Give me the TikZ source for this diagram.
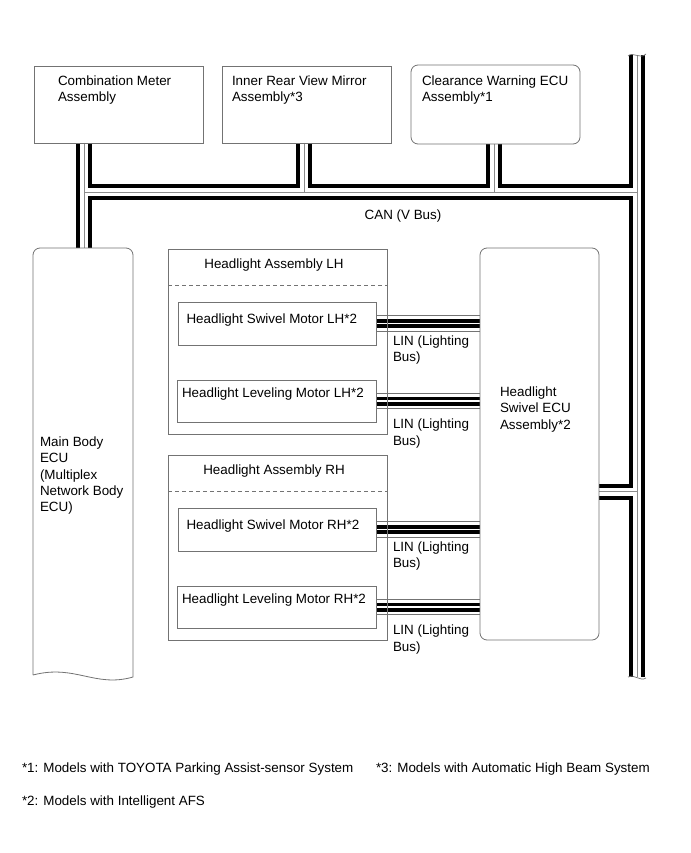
\documentclass[tikz,border=0pt]{standalone}
\usepackage{fontspec}
\setmainfont{Liberation Sans}
\usetikzlibrary{calc,backgrounds}
\begin{document}
\begin{tikzpicture}[x=1pt,y=-1pt,
  every node/.style={inner sep=0pt,outer sep=0pt},
  lbl/.style={font=\fontsize{13.4}{16.4}\selectfont,align=left,anchor=north west},
  ctr/.style={font=\fontsize{13.4}{16.4}\selectfont,anchor=base},
  sqbox/.style={draw=black!55,line width=0.8pt,anchor=north west},
  rdbox/.style={sqbox,rounded corners=7pt},
  dashsep/.style={draw=black!55,line width=0.8pt,dash pattern=on 4pt off 3pt},
  thinw/.style={draw=black!55,line width=0.7pt}]

% ---------- boxes ----------
\node[sqbox,minimum width=169,minimum height=77] (cm) at (34,66) {};
\node[sqbox,minimum width=169,minimum height=77] (ir) at (222,66) {};
\node[rdbox,minimum width=169,minimum height=79] (cw) at (411,65) {};

\node[minimum width=100,minimum height=429,anchor=north west] (mb) at (33,248) {};
\draw[draw=black!55,line width=0.8pt] (33,675) [rounded corners=7pt] -- (mb.north west) -- (mb.north east) [sharp corners] -- (133,677)
  .. controls (95,688) and (75,664) .. (33,675);

\node[sqbox,minimum width=219,minimum height=185] (hal) at (168,249) {};
\draw[dashsep] ($(hal.north west)+(0,36)$) -- ($(hal.north east)+(0,36)$);
\node[sqbox,minimum width=198,minimum height=43] (swl) at (178,302) {};
\node[sqbox,minimum width=199,minimum height=42] (lvl) at (177,380) {};

\node[sqbox,minimum width=219,minimum height=185] (har) at (168,455) {};
\draw[dashsep] ($(har.north west)+(0,36)$) -- ($(har.north east)+(0,36)$);
\node[sqbox,minimum width=198,minimum height=43] (swr) at (178,508) {};
\node[sqbox,minimum width=199,minimum height=42] (lvr) at (177,586) {};

\node[rdbox,minimum width=119,minimum height=392] (ecu) at (480,248) {};

% ---------- buses ----------
\coordinate (jl) at (84,192);
\coordinate (jm) at (304,192);
\coordinate (jc) at (494,192);
\coordinate (rt) at (637,55);
\coordinate (rb) at (637,677);
\coordinate (je) at (637,491.5);

\begin{scope}[on background layer]
\fill[white] (0,0) rectangle (690,853);
\foreach \w/\c in {16/black,8/white,0.9/black!45}{
  \draw[line width=\w,draw=\c] (cm.south -| jl) -- (mb.north -| jl)
    (jl) -- (jl -| rt)
    (ir.south -| jm) -- (jm)
    (cw.south -| jc) -- (jc)
    (rt) -- (rb)
    (ecu.east |- je) -- (je);
}
\foreach \m in {swl,lvl,swr,lvr}{
  \draw[line width=9,black] (\m.east) -- (\m.east -| ecu.west);
  \draw[line width=1.5,white] (\m.east) -- (\m.east -| ecu.west);
  \draw[thinw] ($(\m.east)+(0,-7.8)$) -- ($(\m.east -| ecu.west)+(0,-7.8)$);
  \draw[thinw] ($(\m.east)+(0,7.8)$) -- ($(\m.east -| ecu.west)+(0,7.8)$);
}
\end{scope}
\draw[thinw] ($(rt)+(-9,1)$) .. controls ($(rt)+(-4,-4)$) and ($(rt)+(3,5)$) .. ($(rt)+(9,-1)$);
\draw[thinw] ($(rb)+(-9,0)$) .. controls ($(rb)+(-4,-4)$) and ($(rb)+(3,5)$) .. ($(rb)+(9,1)$);

% ---------- texts ----------
\node[lbl] (cmt) at (58,75.5) {Combination Meter\\Assembly};
\node[lbl] (irt) at (232,75.5) {Inner Rear View Mirror\\Assembly*3};
\node[lbl] (cwt) at (422,75.5) {Clearance Warning ECU\\Assembly*1};
\node[ctr] (can) at (403,219) {CAN (V Bus)};
\node[lbl] (mbt) at (40,436.5) {Main Body\\ECU\\(Multiplex\\Network Body\\ECU)};

\node[ctr] (halt) at (274,268) {Headlight Assembly LH};
\node[lbl] (swlt) at (186.5,313.5) {Headlight Swivel Motor LH*2};
\node[lbl] (lvlt) at (182,387.5) {Headlight Leveling Motor LH*2};
\node[lbl] (lin1) at (393,335.5) {LIN (Lighting\\Bus)};
\node[lbl] (lin2) at (393,419) {LIN (Lighting\\Bus)};

\node[ctr] (hart) at (274,474) {Headlight Assembly RH};
\node[lbl] (swrt) at (186.5,519.5) {Headlight Swivel Motor RH*2};
\node[lbl] (lvrt) at (182,593.5) {Headlight Leveling Motor RH*2};
\node[lbl] (lin3) at (393,541.5) {LIN (Lighting\\Bus)};
\node[lbl] (lin4) at (393,625) {LIN (Lighting\\Bus)};

\node[lbl] (ecut) at (500,386.5) {Headlight\\Swivel ECU\\Assembly*2};

\node[lbl] (fn1) at (22,762.5) {*1: Models with TOYOTA Parking Assist-sensor System};
\node[lbl] (fn3) at (376,762.5) {*3: Models with Automatic High Beam System};
\node[lbl] (fn2) at (22,795.5) {*2: Models with Intelligent AFS};
\end{tikzpicture}
\end{document}
